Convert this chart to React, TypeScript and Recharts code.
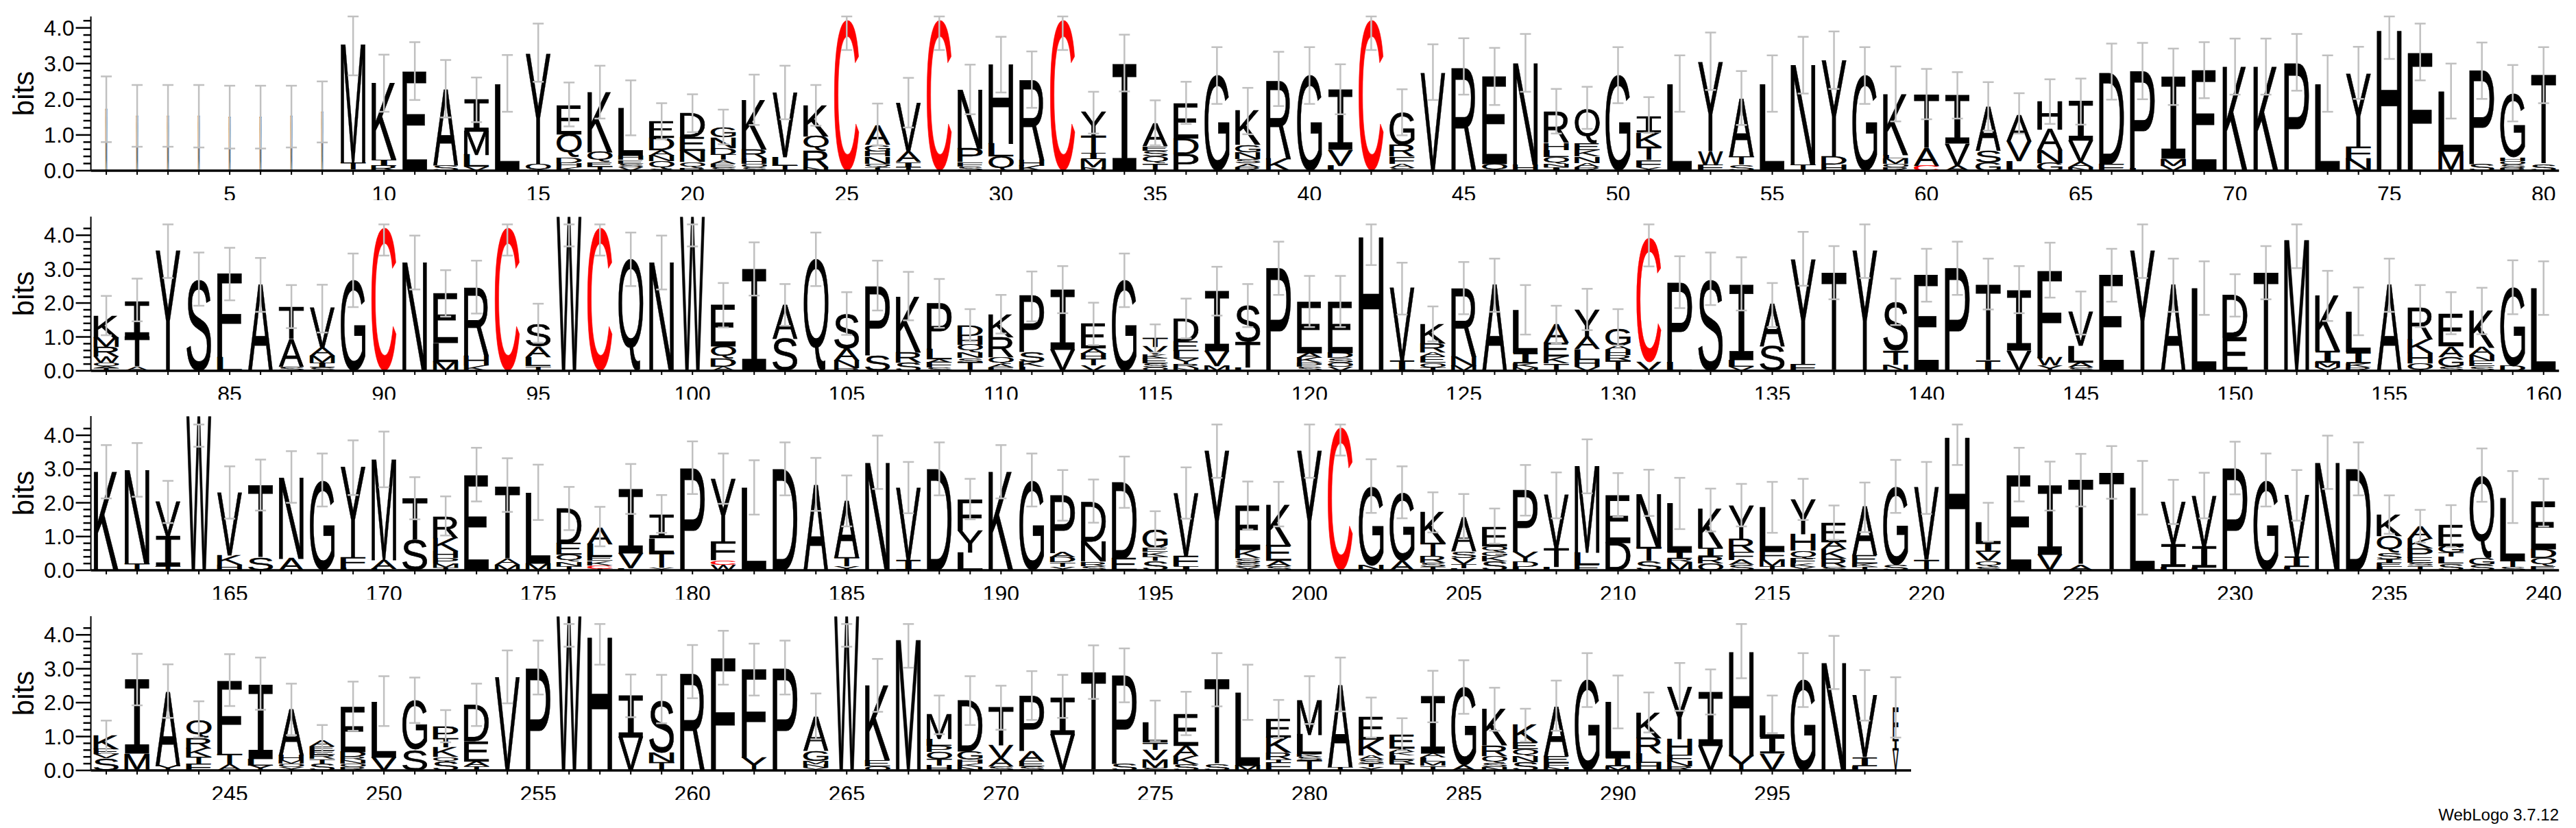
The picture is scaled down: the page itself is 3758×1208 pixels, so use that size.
import React from 'react';
import { ComposedChart, Bar, Line, ErrorBar, XAxis, YAxis } from 'recharts';

// each stack reads bottom to top: letter + height in bits
const ROW1_STACKS = [
  'M1.72', 'M1.53', 'M1.53', 'M1.52', 'M1.5', 'M1.5', 'M1.52', 'M1.65', 'L.03T.2M3.29', 'R.14I.17K2.13',
  'E2.77', 'S.16A2.12', 'V.12L.33M.65I.88', 'L2.42', 'Q.2Y3.08', 'K.1H.12D.15Q.65E.82', 'T.12E.12Q.28K1.67', 'V.1S.1E.1H.12L1.32', 'S.05Q.22N.16A.14D.35E.47', 'R.08Q.16N.31E.4D.67',
  'S.1E.1A.1T.14D.2N.29G.28', 'S.1O.1H.15R.25K1.37', 'T.14L.25V1.8', 'N.1R.46Q.4K.85', 'C4.22', 'T.1Q.1N.2H.14G.18A.54', 'T.1I.14A.3V1.34', 'C4.22', 'S.12F.12P.38N1.65', 'Q.4L.36H2.2',
  'K.14H.16R2.24', 'C4.22', 'N.1M.22I.16T.49Y.66', 'I2.99', 'T.2Q.2S.16E.13A.64', 'P.47D.44E.97', 'G2.67', 'R.1A.1S.12N.2G.2K.95', 'K.33R2.21', 'G2.67',
  'L.14V.45I1.68', 'C4.22', 'S.08A.12F.2R.32G.9', 'V2.74', 'R2.9', 'Q.2E2.43', 'H.17N2.82', 'I.1N.1Q.18L.2H.2R.87', 'R.1A.12N.18K.18E.2Q.94', 'G2.67',
  'Y.1F.2T.38K.4I.45', 'L2.42', 'F.16W.4Y2.48', 'S.16T.22A1.63', 'L2.42', 'T.18N2.78', 'H.18D.22Y2.69', 'G2.67', 'R.1O.1M.14L.1K1.69', 'C.14A.5T1.49',
  'A.14V.62I1.35', 'G.22S.34A1.23', 'L.27V.56A.74', 'G.22N.36A.58H.79', 'N.1A.14V.6I1.1', 'F.2D2.54', 'L.06P2.74', 'V.14M.2I2.28', 'E2.8', 'K2.9',
  'K2.9', 'P3.01', 'L2.42', 'N.33F.34Y2.05', 'H3.92', 'F3.3', 'M.54L1.67', 'S.2P2.6', 'R.07S.1O.1H.1G1.78', 'S.18T2.49',
];
const ROW1_HIGH = [
  2.64, 2.4, 2.4, 2.4, 2.38, 2.38, 2.38, 2.5, 4.32, 3.25,
  3.6, 3.1, 2.61, 3.24, 4.12, 2.47, 2.94, 2.53, 1.89, 2.14,
  1.71, 2.69, 2.94, 2.4, 4.32, 1.88, 2.6, 4.32, 2.97, 3.75,
  3.34, 4.32, 2.21, 3.81, 1.97, 2.49, 3.46, 2.32, 3.33, 3.46,
  2.98, 4.32, 2.28, 3.54, 3.71, 3.44, 3.83, 2.29, 2.35, 3.46,
  2.06, 3.23, 3.87, 2.79, 3.23, 3.75, 3.9, 3.46, 2.92, 2.85,
  2.76, 2.48, 2.17, 2.56, 2.58, 3.56, 3.58, 3.42, 3.6, 3.7,
  3.7, 3.83, 3.23, 3.47, 4.32, 4.12, 3.0, 3.59, 2.96, 3.46,
];
const ROW1_LOW = [
  0.8, 0.67, 0.67, 0.65, 0.62, 0.62, 0.65, 0.79, 2.67, 1.65,
  1.98, 1.49, 1.36, 1.65, 2.49, 1.24, 1.46, 0.99, 0.88, 1.08,
  0.74, 1.28, 1.44, 1.26, 3.38, 0.71, 1.21, 3.38, 1.58, 2.19,
  1.76, 3.38, 1.04, 2.22, 0.71, 1.31, 1.87, 1.02, 1.81, 1.87,
  1.58, 3.38, 0.99, 1.98, 2.13, 1.84, 2.21, 1.04, 1.17, 1.89,
  1.06, 1.65, 2.26, 1.28, 1.65, 2.16, 2.29, 1.87, 1.38, 1.44,
  1.46, 1.12, 1.04, 1.31, 1.29, 1.99, 2.0, 1.84, 2.03, 2.13,
  2.13, 2.24, 1.65, 2.01, 3.13, 2.53, 1.46, 2.01, 1.38, 1.89,
];

const ROW2_STACKS = [
  'T.08A.06O.1W.18R.28M.28K.65', 'A.12T.9I1.04', 'Y3.54', 'S2.7', 'L.4F2.46', 'A2.53', 'S.13A.8T.94', 'S.1I.14M.2A.22V1.18', 'G2.66', 'C4.22',
  'N3.18', 'M.27L.55E1.44', 'K.16H.28R2.03', 'C4.22', 'T.14L.26A.32S.67', 'W4.55', 'C4.22', 'Q3.28', 'N3.18', 'W4.55',
  'A.12D.24Q.36E1.22', 'I3.0', 'S.96A.98', 'Q3.28', 'R.08N.22A.36S1.02', 'S.46P2.03', 'S.25R.3K1.63', 'S.1F.14A.1L.3P1.35', 'T.25S.14N.16Q.22H.26D.3', 'F.1A.1Q.2R.6K.67',
  'L.12K.14S.3P1.65', 'V.62I1.75', 'V.16T.2H.14A.16E.71', 'G2.66', 'Q.1S.12E.14K.12V.22T.26', 'N.08R.12Y.16L.22E.28D.67', 'M.14V.44I1.75', 'L.1T.75S1.09', 'P3.03', 'S.12P.12K.14A.14E1.51',
  'V.12O.12S.14D.14E1.51', 'H3.94', 'I.3V2.14', 'T.1O.14E.18A.12R.26K.57', 'M.14N.28R2.01', 'A2.53', 'M.1K.12I.3L1.26', 'T.22K.2E.4A.54', 'V.12H.2L.32A.36Y.81', 'T.3R.16H.16A.13G.5',
  'V.25C3.66', 'L.25P2.36', 'S2.7', 'V.12L.2I2.21', 'S.72A1.23', 'F.2Y3.09', 'T2.9', 'Y3.54', 'N.18T.42S1.43', 'E2.82',
  'P3.03', 'I.3T2.24', 'V.6I1.77', 'Y.16W.22F2.57', 'S.1A.14L.5V.97', 'E2.82', 'Y3.54', 'A2.53', 'L2.44', 'E.99D1.25',
  'T2.9', 'M3.86', 'V.1M.14I.35K1.62', 'R.1K.12I.32L1.2', 'A2.53', 'Q.22H.3K.41R.94', 'S.12G.28A.32E.96', 'S.14E.14N.18A.22K1.08', 'D.14G2.32', 'L2.44',
];
const ROW2_HIGH = [
  2.21, 2.72, 4.32, 3.49, 3.63, 3.33, 2.53, 2.54, 3.46, 4.32,
  3.99, 2.97, 3.25, 4.32, 1.98, 4.32, 4.32, 4.08, 3.99, 4.32,
  2.59, 3.79, 2.56, 4.08, 2.32, 3.25, 2.92, 2.71, 1.82, 2.24,
  2.93, 3.09, 2.01, 3.46, 1.37, 2.13, 3.07, 2.56, 3.81, 2.8,
  2.8, 4.32, 3.19, 1.9, 3.21, 3.31, 2.53, 1.92, 2.42, 1.82,
  4.32, 3.38, 3.49, 3.35, 2.59, 4.1, 3.68, 4.32, 2.72, 3.6,
  3.81, 3.31, 3.09, 3.78, 2.34, 3.6, 4.32, 3.31, 3.23, 2.85,
  3.68, 4.32, 2.95, 2.46, 3.31, 2.53, 2.32, 2.45, 3.26, 3.23,
];
const ROW2_LOW = [
  1.05, 1.46, 2.74, 1.92, 2.08, 1.74, 1.26, 1.13, 1.88, 3.4,
  2.4, 1.6, 1.69, 3.4, 0.83, 3.67, 3.4, 2.5, 2.4, 3.67,
  1.28, 2.22, 1.33, 2.5, 1.06, 1.78, 1.49, 1.27, 0.87, 1.1,
  1.46, 1.7, 0.76, 1.88, 0.54, 0.96, 1.63, 1.29, 2.24, 1.29,
  1.29, 3.12, 1.66, 0.87, 1.67, 1.74, 1.07, 0.8, 1.2, 0.75,
  3.08, 1.85, 1.94, 1.78, 1.29, 2.51, 2.11, 2.74, 1.35, 2.04,
  2.24, 1.81, 1.7, 2.16, 1.07, 2.04, 2.74, 1.74, 1.65, 1.6,
  2.11, 3.03, 1.47, 1.05, 1.74, 1.29, 1.08, 1.08, 1.67, 1.65,
];

const ROW3_STACKS = [
  'K2.92', 'T.2N2.77', 'T.12I.9V1.02', 'W4.57', 'H.16K.28V1.84', 'S.37T2.14', 'A.35N2.39', 'G2.66', 'L.08F.3Y2.67', 'L.05A.25M2.97',
  'S.92T1.2', 'T.08M.12P.16H.2K.4R.64', 'E2.82', 'M.16A.18T2.15', 'M.2L2.09', 'T.12N.14Q.2E.34D1.03', 'T.04C.1K.14E.12L.38A.5', 'L.06V.44I1.89', 'Y.08T.45L.42I.7', 'P3.03',
  'W.16C.14F.55Y1.85', 'L2.44', 'D2.99', 'A2.52', 'Y.12T.26A1.66', 'N3.18', 'I.3V2.12', 'D2.99', 'L.52Y.66F.92', 'K2.92',
  'G2.66', 'Y.1T.14D.14A.14P1.68', 'S.12R.14N.6D1.18', 'E.35D2.25', 'S.28T.12K.14E.12G.53', 'I.12F.3V1.84', 'Y3.53', 'Y.1S.12S.14K.24E1.29', 'S.12A.16E.46K1.19', 'Y3.53',
  'C4.23', 'N.15G2.34', 'A.28G2.01', 'T.1S.12R.2T.4K.9', 'L.06T.12V.18S.2A.99', 'S.26K.16G.14Q.16E.58', 'L.1D.14Y.3P1.83', 'L.1T.55V1.58', 'E.16L.36M2.54', 'D.82E1.4',
  'S.28T.42N1.55', 'M.24R.1I.2L1.43', 'O.2R.2I.26K1.13', 'S.16A.14F.24R.38Y.99', 'T.12M.2F.24L1.3', 'Y.1K.1F.14Q.24H.5Y1.01', 'S.1R.24K.28A.22E.57', 'T.1K.1E.24A1.42', 'S.17G2.3', 'T.32V2.12',
  'H3.93', 'S.1Q.18V.26I.26L.61', 'E2.82', 'V.46I2.03', 'A.16T2.52', 'T2.89', 'L2.44', 'L.1I.68V1.26', 'L.08I.62V1.52', 'P3.03',
  'G2.66', 'L.1I.3V1.82', 'N3.18', 'D2.99', 'L.1E.12I.1S.2Q.5K.63', 'T.14S.08E.15P.28K.28A.37', 'S.2L.2T.12G.2E.61', 'S.16G.2Q2.43', 'S.1T.18L1.85', 'E.14Q.22D.26E1.39',
];
const ROW3_HIGH = [
  3.71, 3.77, 2.65, 4.32, 3.08, 3.28, 3.53, 3.46, 3.85, 4.11,
  2.76, 2.19, 3.63, 3.32, 3.13, 2.47, 1.88, 3.15, 2.23, 3.82,
  3.46, 3.26, 3.79, 3.33, 2.81, 3.99, 3.21, 3.79, 2.71, 3.71,
  3.46, 2.97, 2.69, 3.37, 1.75, 3.05, 4.32, 2.63, 2.62, 4.32,
  4.32, 3.29, 3.08, 2.31, 2.26, 1.83, 3.12, 2.9, 3.88, 2.88,
  2.98, 2.74, 2.42, 2.56, 2.62, 2.71, 1.92, 2.6, 3.27, 3.21,
  4.32, 2.0, 3.63, 3.22, 3.45, 3.68, 3.24, 2.68, 2.89, 3.81,
  3.46, 2.97, 3.99, 3.79, 2.22, 1.79, 1.93, 3.61, 2.94, 2.71,
];
const ROW3_LOW = [
  2.13, 2.18, 1.4, 3.66, 1.53, 1.77, 2.0, 1.89, 2.23, 2.46,
  1.51, 1.03, 2.04, 1.73, 1.49, 1.19, 0.71, 1.67, 1.11, 2.26,
  1.97, 1.65, 2.22, 1.76, 1.3, 2.41, 1.69, 2.22, 1.51, 2.13,
  1.89, 1.47, 1.41, 1.85, 0.66, 1.53, 2.74, 1.21, 1.3, 2.74,
  3.4, 1.7, 1.54, 1.12, 0.92, 0.79, 1.62, 1.54, 2.28, 1.58,
  1.61, 1.22, 1.15, 1.3, 1.11, 1.49, 0.9, 1.13, 1.7, 1.67,
  3.12, 0.85, 2.04, 1.77, 1.89, 2.12, 1.65, 1.37, 1.54, 2.25,
  1.89, 1.47, 2.41, 2.22, 1.08, 0.82, 0.69, 2.03, 1.4, 1.3,
];

const ROW4_STACKS = [
  'S.36V.12E.14K.4', 'M.5I2.19', 'Y.15A2.17', 'F.2T.2K.25R.31Q.54', 'A.18T.3F2.15', 'Y.14L.2I2.19', 'Y.1O.1M.1H.16A1.35', 'S.2T.14R.12E.12E.12A.18', 'R.1O.1N.1R.1D.14E1.33', 'V.38L1.64',
  'S.62G1.44', 'S.26Q.14K.28T.26P.35', 'T.12A.14E.6D1.06', 'V2.75', 'P3.01', 'W4.55', 'H3.92', 'V.97I1.24', 'T.24N.28S1.54', 'R2.9',
  'F3.3', 'Y.38F2.59', 'P3.01', 'Y.08N.1M.1G.3A.99', 'W4.55', 'O.12E.18K2.2', 'M3.85', 'H.14T.2O.2P.18L.2M.73', 'N.1K.1H.12G.24D1.49', 'S.12A.24V.38T1.12',
  'S.12E.14A.32P1.61', 'V1.06I1.1', 'T2.88', 'S.2P2.6', 'S.08M.22V.3T.22L.6', 'S.18K.24A.3E.94', 'S.18T2.49', 'M.14L2.15', 'F.22T.1R.2K.46E.54', 'T.3S.1K.08L.58M1.02',
  'T.1A2.41', 'Y.1T.1S.12A.12K.46E.67', 'T.2R.12L.12K.1A.1E.42', 'T.14M.12L.12A.12I1.68', 'A.16G2.29', 'N.1S.12Q.2R.32K1.05', 'S.24N.18Q.2E.2K.51', 'N.1F.12E.2A1.45', 'G2.67', 'M.12I.26L1.64',
  'H.22L.28R.46K.75', 'R.12N.14F.2H.46Y1.53', 'V.72I1.59', 'Y.43H3.06', 'V.5I.5L.63', 'G2.67', 'N3.17', 'L.12I.28V1.8', 'V.6I.3F.94',
];
const ROW4_HIGH = [
  1.47, 3.44, 3.13, 2.04, 3.43, 3.33, 2.56, 1.34, 2.62, 2.78,
  2.74, 1.78, 2.56, 3.54, 3.83, 4.32, 4.32, 2.83, 2.82, 3.7,
  4.12, 3.74, 3.83, 2.27, 4.32, 3.29, 4.32, 2.21, 2.78, 2.5,
  2.93, 2.82, 3.69, 3.6, 2.06, 2.32, 3.46, 3.12, 2.08, 2.78,
  3.33, 2.15, 1.54, 2.94, 3.25, 2.44, 1.82, 2.65, 3.46, 2.8,
  2.3, 3.17, 2.98, 4.32, 2.21, 3.46, 3.97, 2.96, 2.75,
];
const ROW4_LOW = [
  0.51, 1.92, 1.55, 0.97, 1.9, 1.79, 1.04, 0.51, 1.17, 1.31,
  1.4, 0.83, 1.31, 1.98, 2.24, 3.65, 3.12, 1.57, 1.39, 2.13,
  2.53, 2.21, 2.24, 0.92, 3.65, 1.73, 3.03, 1.07, 1.34, 1.2,
  1.49, 1.55, 2.11, 2.01, 0.86, 1.04, 1.89, 1.49, 0.96, 1.37,
  1.74, 0.97, 0.59, 1.42, 1.67, 1.17, 0.85, 1.17, 1.87, 1.24,
  1.12, 1.76, 1.65, 2.72, 1.1, 1.87, 2.4, 1.47, 0.97,
];

// columns with few sequences are drawn narrower
const OCCUPANCY: Record<number, number> = { 1: 0.07, 2: 0.07, 3: 0.07, 4: 0.07, 5: 0.07, 6: 0.07, 7: 0.07, 8: 0.07, 299: 0.22 };

const Y_TICKS = [0, 0.2, 0.4, 0.6, 0.8, 1, 1.2, 1.4, 1.6, 1.8, 2, 2.2, 2.4, 2.6, 2.8, 3, 3.2, 3.4, 3.6, 3.8, 4, 4.2];
const MAX_BITS = 4.32;
const STEP = 45.01;
const LEFT = 132.5;
const RIGHT_ROOM = 24;
const ROW_HEIGHT = 291.7;
const SANS = '"Liberation Sans", Arial, sans-serif';
const MONO = '"Liberation Mono", monospace';

const measureCtx = document.createElement('canvas').getContext('2d');
const boxCache: Record<string, any> = {};

const glyphFont = (letter: string) => (letter === 'I' ? MONO : SANS);

const glyphBox = (letter: string) => {
  if (!boxCache[letter]) {
    measureCtx!.font = `100px ${glyphFont(letter)}`;
    const m = measureCtx!.measureText(letter);
    boxCache[letter] = {
      left: m.actualBoundingBoxLeft,
      width: m.actualBoundingBoxLeft + m.actualBoundingBoxRight,
      ascent: m.actualBoundingBoxAscent,
      height: m.actualBoundingBoxAscent + m.actualBoundingBoxDescent,
    };
  }
  return boxCache[letter];
};

const parseStack = (stack: string) =>
  Array.from(stack.matchAll(/([A-Z])([\d.]+)/g)).map((m) => ({ letter: m[1], bits: parseFloat(m[2]) }));

const buildRow = (firstPos: number, stacks: string[], high: number[], low: number[]) =>
  stacks.map((stack, i) => {
    const parts = parseStack(stack);
    const total = parts.reduce((sum, p) => sum + p.bits, 0);
    const row: Record<string, any> = {
      pos: firstPos + i,
      total,
      err: [total - low[i], high[i] - total],
    };
    parts.forEach((p, k) => {
      row[`s${k}`] = p.bits;
      row[`l${k}`] = p.letter;
    });
    return row;
  });

const makeLetter = (k: number) => (props: any) => {
  const { x, y, width, height, payload } = props;
  const letter = payload[`l${k}`];
  if (!letter || !height) return <g />;
  const occupancy = OCCUPANCY[payload.pos] ?? 1;
  const w = width * occupancy;
  const x0 = x + (width - w) / 2;
  const box = glyphBox(letter);
  const sx = w / box.width;
  const sy = height / box.height;
  const color = letter === 'C' ? '#ff0000' : '#000000';
  return (
    <text
      transform={`translate(${x0 + box.left * sx},${y + box.ascent * sy}) scale(${sx},${sy})`}
      fontFamily={glyphFont(letter)}
      fontSize={100}
      fill={color}
      stroke={color}
      strokeWidth={occupancy < 0.5 ? 1.4 : 0.7}
      vectorEffect="non-scaling-stroke"
    >
      {letter}
    </text>
  );
};

const YTick = ({ x, y, payload }: any) => {
  const major = Number.isInteger(payload.value);
  return (
    <g>
      <line x1={x} x2={x - (major ? 22 : 11)} y1={y} y2={y} stroke="#000" strokeWidth={2.5} />
      {major && (
        <text x={x - 24} y={y} textAnchor="end" dominantBaseline="central" fontFamily={SANS} fontSize={32} fill="#000">
          {payload.value.toFixed(1)}
        </text>
      )}
    </g>
  );
};

const XTick = ({ x, y, payload }: any) => (
  <g>
    <line x1={x} x2={x} y1={y} y2={y + 6} stroke="#000" strokeWidth={2} />
    {payload.value % 5 === 0 && (
      <text x={x} y={y + 34} textAnchor="middle" dominantBaseline="central" fontFamily={SANS} fontSize={32} fill="#000">
        {payload.value}
      </text>
    )}
  </g>
);

const LogoRow = ({ index, data }: { index: number; data: any[] }) => {
  const depth = Math.max(...data.map((d) => Object.keys(d).filter((key) => key.startsWith('s')).length));
  return (
    <div style={{ position: 'absolute', left: 0, top: index * ROW_HEIGHT }}>
      <ComposedChart
        width={LEFT + data.length * STEP + RIGHT_ROOM}
        height={ROW_HEIGHT}
        data={data}
        margin={{ top: 24, right: RIGHT_ROOM, bottom: 0, left: 0 }}
        barCategoryGap="10%"
      >
        <XAxis
          dataKey="pos"
          interval={0}
          height={42.7}
          tick={<XTick />}
          tickLine={false}
          tickSize={0}
          tickMargin={0}
          axisLine={{ stroke: '#000', strokeWidth: 3.5 }}
        />
        <YAxis
          domain={[0, MAX_BITS]}
          ticks={Y_TICKS}
          interval={0}
          width={LEFT}
          tick={<YTick />}
          tickLine={false}
          tickSize={0}
          tickMargin={0}
          axisLine={{ stroke: '#000', strokeWidth: 2 }}
          label={{
            value: 'bits',
            angle: -90,
            position: 'insideLeft',
            offset: 34,
            style: { fontFamily: SANS, fontSize: 42, fill: '#000', textAnchor: 'middle' },
          }}
        />
        {Array.from({ length: depth }).map((_, k) => (
          <Bar key={k} dataKey={`s${k}`} stackId="logo" shape={makeLetter(k)} isAnimationActive={false} />
        ))}
        <Line dataKey="total" stroke="none" dot={false} activeDot={false} isAnimationActive={false}>
          <ErrorBar dataKey="err" direction="y" width={8} stroke="#c0c0c0" strokeWidth={2.5} isAnimationActive={false} />
        </Line>
      </ComposedChart>
    </div>
  );
};

const ROWS = [
  buildRow(1, ROW1_STACKS, ROW1_HIGH, ROW1_LOW),
  buildRow(81, ROW2_STACKS, ROW2_HIGH, ROW2_LOW),
  buildRow(161, ROW3_STACKS, ROW3_HIGH, ROW3_LOW),
  buildRow(241, ROW4_STACKS, ROW4_HIGH, ROW4_LOW),
];

export default function App() {
  return (
    <div style={{ position: 'absolute', left: 0, top: 0, width: 3758, height: 1208, background: '#fff', overflow: 'hidden' }}>
      {ROWS.map((data, i) => (
        <LogoRow key={i} index={i} data={data} />
      ))}
      <div style={{ position: 'absolute', right: 25, top: 1175, fontFamily: SANS, fontSize: 24, color: '#000' }}>WebLogo 3.7.12</div>
    </div>
  );
}
